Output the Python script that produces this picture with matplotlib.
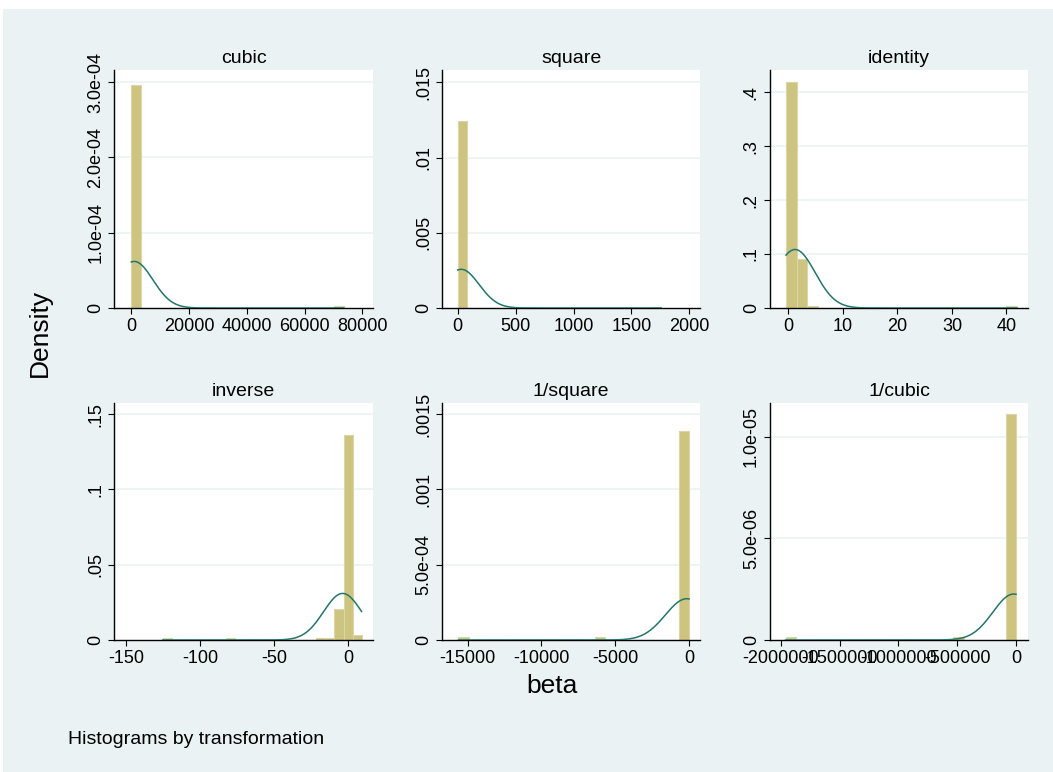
import numpy as np
import matplotlib
matplotlib.use("Agg")
import matplotlib.pyplot as plt
from matplotlib.patches import Rectangle

plt.rcParams['font.family'] = ['Liberation Sans', 'DejaVu Sans']

# ---------------- data ----------------
panel_titles = ["cubic", "square", "identity", "inverse", "1/square", "1/cubic"]

# histogram: first bin left edge, bin width, densities of the 22 bins
bin_start = [0.0, 0.0, -0.4, -125.2, -15630.0, -1960000.0]
bin_width = [3344.0, 79.8, 1.923, 6.1, 710.5, 89090.0]

dens_cubic = [2.955e-4] + [0.0] * 20 + [2.5e-6]
dens_square = [0.01245] + [0.0] * 20 + [9e-5]
dens_identity = [0.4186, 0.0917, 0.004] + [0.0] * 18 + [0.004]
dens_inverse = [0.0015, 0, 0, 0, 0, 0, 0, 0.0015, 0, 0, 0, 0, 0, 0, 0, 0, 0,
                0.0015, 0.0015, 0.0208, 0.1361, 0.0031]
dens_inv_square = [2e-5] + [0.0] * 12 + [2e-5] + [0.0] * 7 + [0.001387]
dens_inv_cubic = [1.3e-7] + [0.0] * 15 + [1.3e-7] + [0.0] * 4 + [1.111e-5]
densities = [dens_cubic, dens_square, dens_identity,
             dens_inverse, dens_inv_square, dens_inv_cubic]

# normal density overlay: mean, sd, data min, data max
normal_mean = [1000.0, 30.0, 1.25, -3.8, -150.0, -20000.0]
normal_sd = [6450.0, 155.0, 3.68, 12.9, 1456.0, 176500.0]
data_min = [0.0, 0.0, -0.4, -125.2, -15630.0, -1960000.0]
data_max = [73560.0, 1756.0, 41.9, 9.0, 0.0, 0.0]

# axes
x_ticks = [[0, 20000, 40000, 60000, 80000],
           [0, 500, 1000, 1500, 2000],
           [0, 10, 20, 30, 40],
           [-150, -100, -50, 0],
           [-15000, -10000, -5000, 0],
           [-2000000, -1500000, -1000000, -500000, 0]]
x_ticklabels = [["0", "20000", "40000", "60000", "80000"],
                ["0", "500", "1000", "1500", "2000"],
                ["0", "10", "20", "30", "40"],
                ["-150", "-100", "-50", "0"],
                ["-15000", "-10000", "-5000", "0"],
                ["-2000000", "-1500000", "-1000000", "-500000", "0"]]
y_ticks = [[0, 1e-4, 2e-4, 3e-4],
           [0, 0.005, 0.01, 0.015],
           [0, 0.1, 0.2, 0.3, 0.4],
           [0, 0.05, 0.1, 0.15],
           [0, 5e-4, 0.001, 0.0015],
           [0, 5e-6, 1e-5]]
y_ticklabels = [["0", "1.0e-04", "2.0e-04", "3.0e-04"],
                ["0", ".005", ".01", ".015"],
                ["0", ".1", ".2", ".3", ".4"],
                ["0", ".05", ".1", ".15"],
                ["0", "5.0e-04", ".001", ".0015"],
                ["0", "5.0e-06", "1.0e-05"]]
x_limits = [(-5900, 83800), (-133, 2092), (-3.34, 44.0),
            (-157.9, 16.9), (-16715, 745), (-2.092e6, 1.046e5)]
y_top = [3.16e-4, 0.01583, 0.441, 0.1576, 0.001575, 1.1667e-5]

# ---------------- style ----------------
W, H = 1053, 772
BG = '#eaf2f3'
BAR = '#cdc480'
BAR_EDGE = '#dcd5a8'
CURVE = '#23766b'

fig = plt.figure(figsize=(W / 100, H / 100), dpi=100, facecolor='white')
fig.patches.append(Rectangle((3 / W, 0), 1 - 3 / W, 1 - 9 / H,
                             transform=fig.transFigure, facecolor=BG,
                             edgecolor='none', zorder=-10))

col_px = [(114.3, 373.3), (442.3, 700.0), (770.0, 1028.3)]
row_px = [(70.0, 308.0), (402.7, 640.0)]

for i in range(6):
    r, c = divmod(i, 3)
    x0, x1 = col_px[c]
    y0, y1 = row_px[r]
    ax = fig.add_axes([x0 / W, 1 - y1 / H, (x1 - x0) / W, (y1 - y0) / H])
    ax.set_facecolor('white')

    d = densities[i]
    lefts = [bin_start[i] + k * bin_width[i] for k in range(len(d))]
    ax.bar(lefts, d, width=bin_width[i], align='edge', color=BAR,
           edgecolor=BAR_EDGE, linewidth=0.8, zorder=2)

    xs = np.linspace(data_min[i], data_max[i], 600)
    ys = np.exp(-0.5 * ((xs - normal_mean[i]) / normal_sd[i]) ** 2) / (
        normal_sd[i] * np.sqrt(2 * np.pi))
    ax.plot(xs, ys, color=CURVE, lw=1.1, zorder=3)

    ax.set_xlim(*x_limits[i])
    ax.set_ylim(0, y_top[i])
    ax.set_xticks(x_ticks[i])
    ax.set_xticklabels(x_ticklabels[i])
    ax.set_yticks(y_ticks[i])
    ax.set_yticklabels(y_ticklabels[i])
    for lab in ax.get_yticklabels():
        lab.set_rotation(90)
        lab.set_va('center')
    for t in y_ticks[i][1:]:
        ax.axhline(t, color=BG, lw=1.1, zorder=1)

    for s in ['top', 'right']:
        ax.spines[s].set_visible(False)
    for s in ['left', 'bottom']:
        ax.spines[s].set_linewidth(1.0)
        ax.spines[s].set_color('black')
    ax.tick_params(axis='both', direction='out', length=4.3, width=0.8,
                   labelsize=13, colors='black')
    ax.tick_params(axis='x', pad=3)
    ax.tick_params(axis='y', pad=3)
    ax.set_title(panel_titles[i], fontsize=14, pad=5)

fig.text(40 / W, 1 - 333 / H, "Density", rotation=90, fontsize=19,
         ha='center', va='center')
fig.text(552 / W, 1 - 686 / H, "beta", fontsize=19, ha='center', va='center')
fig.text(68 / W, 1 - 740 / H, "Histograms by transformation", fontsize=14,
         ha='left', va='center')

fig.savefig("out.png", dpi=100, facecolor='white')
